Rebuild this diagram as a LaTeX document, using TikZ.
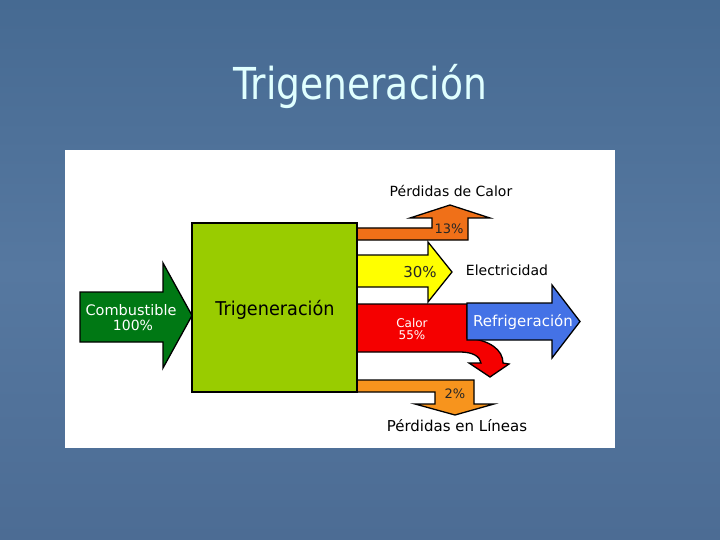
\documentclass[tikz,border=0pt]{standalone}
\usepackage{fontspec}
\setmainfont{DejaVu Sans}
\usepackage{graphicx}
\definecolor{bgtop}{RGB}{70,106,146}
\definecolor{bgmid}{RGB}{86,120,160}
\definecolor{bgbot}{RGB}{76,108,148}
\definecolor{titlecol}{RGB}{224,255,255}
\definecolor{boxgreen}{RGB}{153,204,0}
\definecolor{arrgreen}{RGB}{0,120,20}
\definecolor{orangeA}{RGB}{240,112,24}
\definecolor{orangeB}{RGB}{247,148,29}
\definecolor{yel}{RGB}{255,255,0}
\definecolor{redc}{RGB}{245,0,0}
\definecolor{bluec}{RGB}{68,114,230}
\tikzset{
  outl/.style={draw=black, line width=1.3pt, line join=miter},
  lbl/.style={inner sep=0pt, font=\fontsize{14}{14}\selectfont, text=black},
  pct/.style={inner sep=0pt, font=\fontsize{13}{14}\selectfont, text=black!85},
  wlbl/.style={inner sep=0pt, text=white, align=center}
}
\begin{document}
\begin{tikzpicture}[x=1pt,y=-1pt]
\useasboundingbox (0,0) rectangle (720,540);
\shade[top color=bgtop, bottom color=bgbot, middle color=bgmid] (0,0) rectangle (720,540);
% title
\node[anchor=base, inner sep=0pt, text=titlecol, font=\fontsize{44}{44}\selectfont] (title) at (360,100) {\scalebox{0.855}[1]{Trigeneración}};
% white panel
\node[fill=white, inner sep=0pt, minimum width=550pt, minimum height=298pt] (panel) at (340,299) {};
% input arrow
\draw[outl, fill=arrgreen] (80,292) -- (163,292) -- (163,263) -- (192,315.5) -- (163,368) -- (163,342) -- (80,342) -- cycle;
\node[wlbl, font=\fontsize{14.5}{14}\selectfont] (comb) at (131,310) {Combustible};
\node[wlbl, font=\fontsize{14}{14}\selectfont] (cien) at (133,325) {100\%};
% heat losses (top orange)
\draw[outl, fill=orangeA] (357,228) -- (432,228) -- (432,218) -- (410,218) -- (450,205) -- (490,218) -- (468,218) -- (468,240) -- (357,240) -- cycle;
% electricity (yellow)
\draw[outl, fill=yel] (357,255) -- (428,255) -- (428,242) -- (452,272) -- (428,302) -- (428,287) -- (357,287) -- cycle;
% heat (red)
\draw[outl, fill=redc] (357,304) -- (467,304) -- (467,338) .. controls (490,340) and (503,350) .. (503,363) -- (509,364) -- (490,377) -- (469,363) -- (481,363) .. controls (480,356) and (472,352) .. (460,352) -- (357,352) -- cycle;
% refrigeration (blue)
\draw[outl, fill=bluec] (467,303) -- (552,303) -- (552,285) -- (580,321.5) -- (552,358) -- (552,340) -- (467,340) -- cycle;
% line losses (bottom orange)
\draw[outl, fill=orangeB] (357,380) -- (474,380) -- (474,404) -- (494,404) -- (455,415) -- (415,404) -- (435,404) -- (435,392) -- (357,392) -- cycle;
% main box
\node[draw=black, line width=2pt, fill=boxgreen, minimum width=165pt, minimum height=169pt, inner sep=0pt] (box) at (274.5,307.5) {};
\node[inner sep=0pt, font=\fontsize{19}{19}\selectfont] (boxtxt) at (275,310) {\scalebox{0.93}[1]{Trigeneración}};
% labels
\node[lbl] (perdcal) at (451,191) {Pérdidas de Calor};
\node[pct] (p13) at (449,229) {13\%};
\node[pct, font=\fontsize{15}{15}\selectfont] (p30) at (420,272) {30\%};
\node[lbl] (elec) at (507,270) {Electricidad};
\node[wlbl, font=\fontsize{12}{12}\selectfont] (calor) at (412,323) {Calor};
\node[wlbl, font=\fontsize{12}{12}\selectfont] (p55) at (412,335) {55\%};
\node[wlbl, font=\fontsize{15}{15}\selectfont] (refr) at (523,322) {Refrigeración};
\node[pct] (p2) at (455,394) {2\%};
\node[lbl, font=\fontsize{15}{15}\selectfont] (perdlin) at (457,426) {Pérdidas en Líneas};
\end{tikzpicture}
\end{document}
